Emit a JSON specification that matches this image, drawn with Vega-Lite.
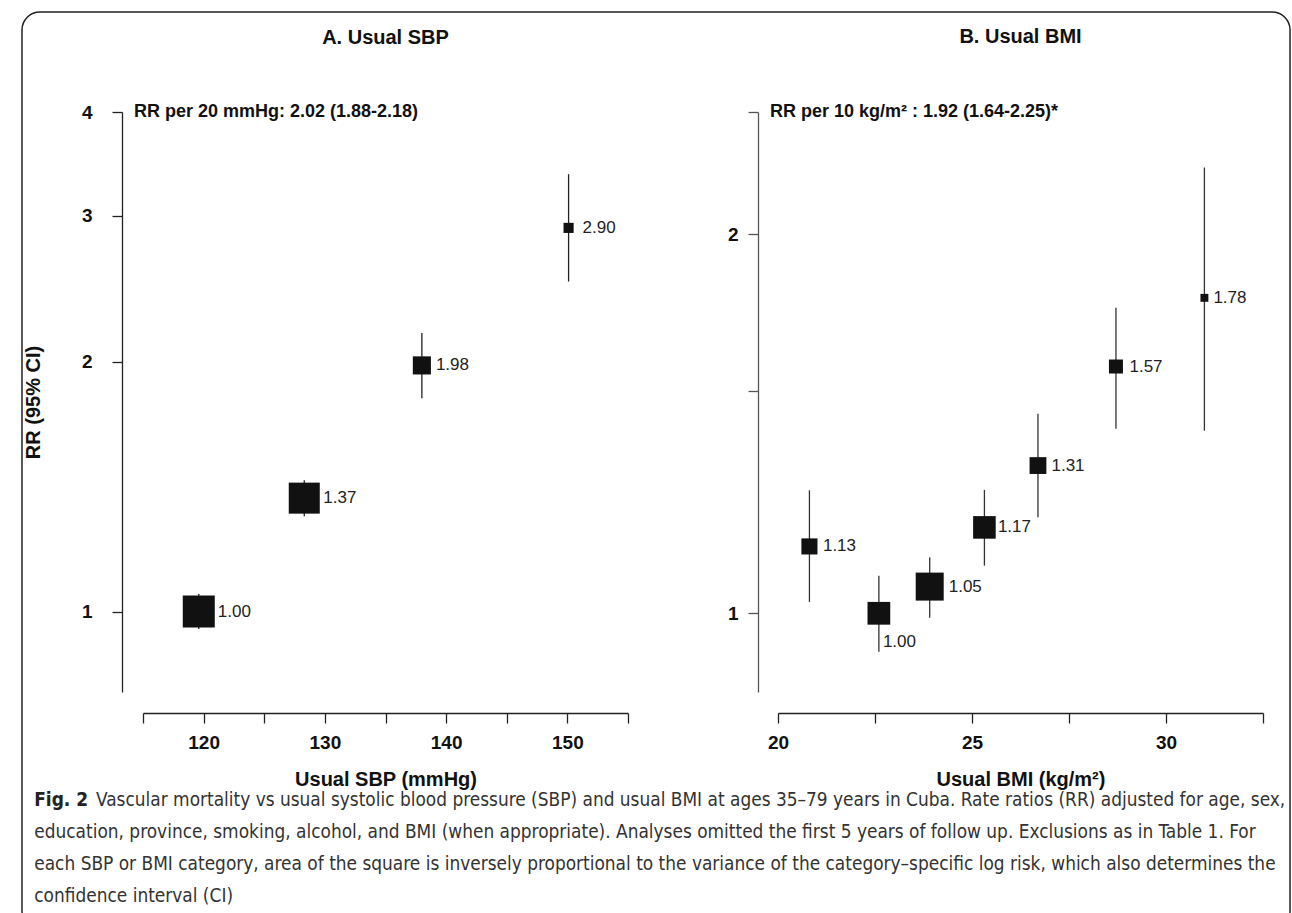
{
  "$schema": "https://vega.github.io/schema/vega-lite/v6.json",
  "padding": {"left": 21, "top": 11, "right": 0, "bottom": 0},
  "background": "white",
  "bounds": "flush",
  "spacing": 150,
  "datasets": {
    "sbp": [
      {"sbp": 119.6, "rr": 1.00, "lo": 0.953, "hi": 1.050, "w": 1.0},
      {"sbp": 128.3, "rr": 1.37, "lo": 1.303, "hi": 1.440, "w": 0.94},
      {"sbp": 138.0, "rr": 1.98, "lo": 1.808, "hi": 2.167, "w": 0.32},
      {"sbp": 150.1, "rr": 2.90, "lo": 2.499, "hi": 3.366, "w": 0.10}
    ],
    "bmi": [
      {"bmi": 20.81, "rr": 1.13, "lo": 1.021, "hi": 1.252, "w": 0.33},
      {"bmi": 22.60, "rr": 1.00, "lo": 0.932, "hi": 1.071, "w": 0.66},
      {"bmi": 23.91, "rr": 1.05, "lo": 0.992, "hi": 1.108, "w": 1.0},
      {"bmi": 25.32, "rr": 1.17, "lo": 1.091, "hi": 1.253, "w": 0.65},
      {"bmi": 26.70, "rr": 1.31, "lo": 1.192, "hi": 1.440, "w": 0.36},
      {"bmi": 28.71, "rr": 1.57, "lo": 1.401, "hi": 1.748, "w": 0.25},
      {"bmi": 30.99, "rr": 1.78, "lo": 1.396, "hi": 2.259, "w": 0.08}
    ],
    "notes": [
      {"panel": "A", "text": "RR per 20 mmHg: 2.02 (1.88-2.18)"},
      {"panel": "B", "text": "RR per 10 kg/m² : 1.92 (1.64-2.25)*"}
    ],
    "frame": [{"item": "figure border"}]
  },
  "title": {
    "text": "Fig. 2",
    "subtitle": [
      "\u200b\u2003\u2003\u2003\u00a0\u00a0Vascular mortality vs usual systolic blood pressure (SBP) and usual BMI at ages 35–79 years in Cuba. Rate ratios (RR) adjusted for age, sex,",
      "education, province, smoking, alcohol, and BMI (when appropriate). Analyses omitted the first 5 years of follow up. Exclusions as in Table 1. For",
      "each SBP or BMI category, area of the square is inversely proportional to the variance of the category–specific log risk, which also determines the",
      "confidence interval (CI)"
    ],
    "orient": "bottom",
    "anchor": "start",
    "frame": "bounds",
    "font": "Liberation Sans Narrow, DejaVu Sans Condensed, Liberation Sans",
    "fontSize": 18.9,
    "fontWeight": "bold",
    "color": "#222",
    "subtitleFont": "Liberation Sans Narrow, DejaVu Sans Condensed, Liberation Sans",
    "subtitleFontSize": 18.9,
    "subtitleFontWeight": "normal",
    "subtitleColor": "#333",
    "subtitleLineHeight": 32,
    "subtitlePadding": -18.9,
    "offset": -139.5,
    "dx": 13
  },
  "config": {
    "font": "Liberation Sans",
    "view": {"stroke": null},
    "axis": {
      "grid": false,
      "domainColor": "#222",
      "tickColor": "#222",
      "domainWidth": 1.3,
      "tickWidth": 1.3,
      "tickSize": 10,
      "labelFont": "Liberation Sans",
      "labelFontWeight": "bold",
      "labelFontSize": 19,
      "labelColor": "#111",
      "labelFlush": false,
      "labelOverlap": false,
      "titleFont": "Liberation Sans",
      "titleFontSize": 20,
      "titleFontWeight": "bold",
      "titleColor": "#111"
    }
  },
  "resolve": {"scale": {"size": "independent", "x": "independent", "y": "independent"}},
  "hconcat": [
    {
      "width": 485,
      "height": 580,
      "title": {"text": "A. Usual SBP", "fontSize": 20, "fontWeight": "bold", "font": "Liberation Sans", "color": "#111", "offset": -37, "frame": "group", "anchor": "middle"},
      "layer": [
        {
          "data": {"name": "sbp"},
          "mark": {"type": "rule", "color": "#222", "strokeWidth": 1.3},
          "encoding": {
            "x": {"field": "sbp", "type": "quantitative",
                  "scale": {"domain": [115, 155], "nice": false, "zero": false},
                  "axis": {"values": [115, 120, 125, 130, 135, 140, 145, 150, 155],
                           "labelExpr": "datum.value % 10 == 0 ? datum.label : ''",
                           "offset": 21, "labelPadding": 10, "titlePadding": 17, "title": "Usual SBP (mmHg)"}},
            "y": {"field": "lo", "type": "quantitative",
                  "scale": {"type": "log", "domain": [0.8, 4], "nice": false},
                  "axis": {"values": [1, 2, 3, 4], "format": "~g", "offset": 21, "labelPadding": 20, "titlePadding": 38, "title": "RR (95% CI)"}},
            "y2": {"field": "hi"}
          }
        },
        {
          "data": {"name": "frame"},
          "mark": {"type": "rect", "filled": false, "stroke": "#222", "strokeWidth": 1.5, "cornerRadius": 18, "clip": false},
          "encoding": {
            "x": {"datum": 105.02, "type": "quantitative"},
            "x2": {"datum": 209.6},
            "y": {"datum": 5.28, "type": "quantitative"},
            "y2": {"datum": 0.4135}
          }
        },
        {
          "data": {"name": "sbp"},
          "mark": {"type": "square", "filled": true, "color": "#111", "opacity": 1},
          "encoding": {
            "x": {"field": "sbp", "type": "quantitative"},
            "y": {"field": "rr", "type": "quantitative"},
            "size": {"field": "w", "type": "quantitative", "scale": {"type": "linear", "domain": [0, 1], "range": [0, 1024], "zero": true}, "legend": null}
          }
        },
        {
          "data": {"name": "sbp"},
          "transform": [{"filter": "datum.w >= 0.9"}],
          "mark": {"type": "text", "align": "left", "baseline": "middle", "dx": 19, "fontSize": 17, "color": "#222", "font": "Liberation Sans"},
          "encoding": {
            "x": {"field": "sbp", "type": "quantitative"},
            "y": {"field": "rr", "type": "quantitative"},
            "text": {"field": "rr", "type": "quantitative", "format": ".2f"}
          }
        },
        {
          "data": {"name": "sbp"},
          "transform": [{"filter": "datum.w < 0.9"}],
          "mark": {"type": "text", "align": "left", "baseline": "middle", "dx": 14, "fontSize": 17, "color": "#222", "font": "Liberation Sans"},
          "encoding": {
            "x": {"field": "sbp", "type": "quantitative"},
            "y": {"field": "rr", "type": "quantitative"},
            "text": {"field": "rr", "type": "quantitative", "format": ".2f"}
          }
        },
        {
          "data": {"name": "notes"},
          "transform": [{"filter": "datum.panel == 'A'"}],
          "mark": {"type": "text", "align": "left", "baseline": "middle", "dx": -9, "fontSize": 18, "fontWeight": "bold", "color": "#111", "font": "Liberation Sans"},
          "encoding": {
            "x": {"datum": 115, "type": "quantitative"},
            "y": {"datum": 4, "type": "quantitative"},
            "text": {"field": "text"}
          }
        }
      ]
    },
    {
      "width": 485,
      "height": 580,
      "title": {"text": "B. Usual BMI", "fontSize": 20, "fontWeight": "bold", "font": "Liberation Sans", "color": "#111", "offset": 56, "frame": "group", "anchor": "middle"},
      "layer": [
        {
          "data": {"name": "bmi"},
          "mark": {"type": "rule", "color": "#333", "strokeWidth": 1.3},
          "encoding": {
            "x": {"field": "bmi", "type": "quantitative",
                  "scale": {"domain": [20, 32.5], "nice": false, "zero": false},
                  "axis": {"values": [20, 22.5, 25, 27.5, 30, 32.5],
                           "labelExpr": "datum.value % 5 == 0 ? datum.label : ''",
                           "offset": 21, "labelPadding": 10, "titlePadding": 17, "title": "Usual BMI (kg/m²)"}},
            "y": {"field": "lo", "type": "quantitative",
                  "scale": {"type": "log", "domain": [0.866, 2.5], "nice": false},
                  "axis": {"values": [1, 1.5, 2, 2.5], "format": "~g",
                           "labelExpr": "datum.value == 1 || datum.value == 2 ? datum.label : ''",
                           "offset": 20, "labelPadding": 10, "title": null, "domainColor": "#555", "tickColor": "#555"}},
            "y2": {"field": "hi"}
          }
        },
        {
          "data": {"name": "bmi"},
          "mark": {"type": "square", "filled": true, "color": "#111", "opacity": 1},
          "encoding": {
            "x": {"field": "bmi", "type": "quantitative"},
            "y": {"field": "rr", "type": "quantitative"},
            "size": {"field": "w", "type": "quantitative", "scale": {"type": "linear", "domain": [0, 1], "range": [0, 784], "zero": true}, "legend": null}
          }
        },
        {
          "data": {"name": "bmi"},
          "transform": [{"filter": "datum.w >= 0.9"}],
          "mark": {"type": "text", "align": "left", "baseline": "middle", "dx": 19, "fontSize": 17, "color": "#222", "font": "Liberation Sans"},
          "encoding": {
            "x": {"field": "bmi", "type": "quantitative"},
            "y": {"field": "rr", "type": "quantitative"},
            "text": {"field": "rr", "type": "quantitative", "format": ".2f"}
          }
        },
        {
          "data": {"name": "bmi"},
          "transform": [{"filter": "datum.w < 0.9 && datum.w > 0.1 && datum.rr != 1"}],
          "mark": {"type": "text", "align": "left", "baseline": "middle", "dx": 13.5, "fontSize": 17, "color": "#222", "font": "Liberation Sans"},
          "encoding": {
            "x": {"field": "bmi", "type": "quantitative"},
            "y": {"field": "rr", "type": "quantitative"},
            "text": {"field": "rr", "type": "quantitative", "format": ".2f"}
          }
        },
        {
          "data": {"name": "bmi"},
          "transform": [{"filter": "datum.w <= 0.1"}],
          "mark": {"type": "text", "align": "left", "baseline": "middle", "dx": 9, "fontSize": 17, "color": "#222", "font": "Liberation Sans"},
          "encoding": {
            "x": {"field": "bmi", "type": "quantitative"},
            "y": {"field": "rr", "type": "quantitative"},
            "text": {"field": "rr", "type": "quantitative", "format": ".2f"}
          }
        },
        {
          "data": {"name": "bmi"},
          "transform": [{"filter": "datum.rr == 1"}],
          "mark": {"type": "text", "align": "left", "baseline": "middle", "dx": 4, "dy": 29, "fontSize": 17, "color": "#222", "font": "Liberation Sans"},
          "encoding": {
            "x": {"field": "bmi", "type": "quantitative"},
            "y": {"field": "rr", "type": "quantitative"},
            "text": {"field": "rr", "type": "quantitative", "format": ".2f"}
          }
        },
        {
          "data": {"name": "notes"},
          "transform": [{"filter": "datum.panel == 'B'"}],
          "mark": {"type": "text", "align": "left", "baseline": "middle", "dx": -8, "fontSize": 18, "fontWeight": "bold", "color": "#111", "font": "Liberation Sans"},
          "encoding": {
            "x": {"datum": 20, "type": "quantitative"},
            "y": {"datum": 2.5, "type": "quantitative"},
            "text": {"field": "text"}
          }
        }
      ]
    }
  ]
}
